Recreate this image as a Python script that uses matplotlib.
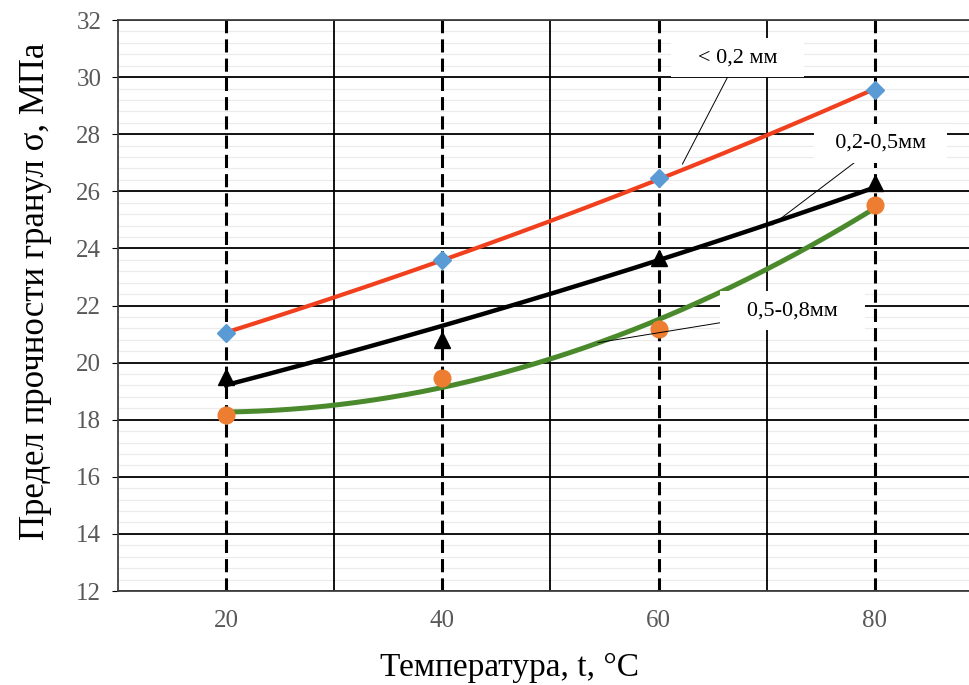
import numpy as np
import matplotlib
matplotlib.use("Agg")
import matplotlib.pyplot as plt

plt.rcParams['font.family'] = ['Liberation Serif', 'DejaVu Serif']

# data
temps = [20, 40, 60, 80]
small = [21.04, 23.59, 26.47, 29.55]    # < 0,2 мм
middle = [19.50, 20.79, 23.66, 26.29]   # 0,2-0,5 мм
large = [18.16, 19.46, 21.18, 25.52]    # 0,5-0,8 мм
yticks = [12, 14, 16, 18, 20, 22, 24, 26, 28, 30, 32]
xticks = [20, 40, 60, 80]

fig = plt.figure(figsize=(9.7, 6.85), dpi=100)
ax = fig.add_axes([0.1216, 0.1372, 0.8784, 0.8336])

t = np.linspace(20, 80, 200)
tt = np.array(temps)

# trend lines (as in the original: exponential, exponential, polynomial 2)
b1, a1 = np.polyfit(tt, np.log(small), 1)
b2, a2 = np.polyfit(tt, np.log(middle), 1)
p3 = np.polyfit(tt, large, 2)

# grid
for y in np.arange(12, 32.01, 0.4):
    ax.axhline(y, color="#ebebeb", lw=0.8, zorder=0)
for y in yticks:
    ax.axhline(y, color="black", lw=1.3, zorder=1)
for x in [30, 50, 70]:
    ax.axvline(x, color="black", lw=1.3, zorder=1)
for x in temps:
    ax.axvline(x, color="black", lw=2.2, dashes=(4.3, 2.0), zorder=2)

ax.plot(t, np.exp(a1 + b1 * t), color="#f0401e", lw=3, zorder=3)
ax.plot(t, np.exp(a2 + b2 * t), color="black", lw=3.2, zorder=3)
ax.plot(t, np.polyval(p3, t), color="#4a8a2c", lw=3.6, zorder=3)

ax.plot(temps, small, "D", color="#5b9bd5", ms=9, zorder=4)
ax.plot(temps, middle, "^", color="black", ms=11, zorder=4)
ax.plot(temps, large, "o", color="#ed7d31", ms=12, zorder=4)

box = dict(boxstyle="square,pad=0.45", fc="white", ec="none")
arr = dict(arrowstyle="-", color="black", lw=0.7, shrinkA=0, shrinkB=0)
ax.annotate("   < 0,2 мм   ", xy=(62.2, 26.95), xytext=(67.3, 30.67), fontsize=16,
            ha="center", va="center", bbox=box, arrowprops=arr, zorder=5)
ax.annotate("  0,2-0,5мм  ", xy=(70.5, 24.82), xytext=(80.5, 27.69), fontsize=16,
            ha="center", va="center", bbox=box, arrowprops=arr, zorder=5)
ax.annotate("   0,5-0,8мм   ", xy=(54.4, 20.7), xytext=(72.4, 21.81), fontsize=16,
            ha="center", va="center", bbox=box, arrowprops=arr, zorder=5)

ax.set_xlim(10, 88.8)
ax.set_ylim(12, 32)
ax.set_xticks(xticks)
ax.set_yticks(yticks)
ax.tick_params(axis="x", length=0, pad=14, labelsize=18, labelcolor="#595959")
ax.tick_params(axis="y", length=4, pad=8, labelsize=18, labelcolor="#595959")

ax.spines["right"].set_visible(False)
for s in ["left", "bottom", "top"]:
    ax.spines[s].set_color("#404040")
    ax.spines[s].set_linewidth(1.3)

ax.set_ylabel("Предел прочности гранул σ, МПа", fontsize=25, va="center")
ax.set_xlabel("Температура, t, °C", fontsize=24, va="center")
ax.yaxis.set_label_coords(-0.097, 0.524)
ax.xaxis.set_label_coords(0.46, -0.135)

fig.savefig("out.png", dpi=100)
